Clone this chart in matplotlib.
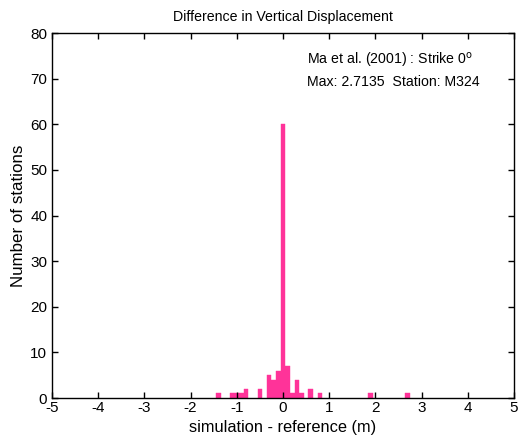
import matplotlib
matplotlib.use("Agg")
import matplotlib.pyplot as plt

plt.rcParams['font.family'] = ['Liberation Sans', 'DejaVu Sans']
plt.rcParams['axes.unicode_minus'] = False

bin_centers = [-1.4, -1.1, -1.0, -0.9, -0.8, -0.5, -0.3, -0.2, -0.1, 0.0,
               0.1, 0.2, 0.3, 0.4, 0.6, 0.8, 1.9, 2.7]
counts = [1, 1, 1, 1, 2, 2, 5, 4, 6, 60, 7, 1, 4, 1, 2, 1, 1, 1]
xticks = [-5, -4, -3, -2, -1, 0, 1, 2, 3, 4, 5]
yticks = [0, 10, 20, 30, 40, 50, 60, 70, 80]

fig = plt.figure(figsize=(5.19, 4.42), dpi=100)
ax = fig.add_axes([52/519, 44/442, 462/519, 365/442])
ax.bar(bin_centers, counts, width=0.1, color='#ff3399', edgecolor='#ff3399', linewidth=0.3)
ax.set_xlim(-5, 5)
ax.set_ylim(0, 80)
ax.set_xticks(xticks)
ax.set_yticks(yticks)
ax.tick_params(direction='in', length=4, width=1, labelsize=11, top=True, right=True)
ax.tick_params(axis='x', pad=2)
for s in ax.spines.values():
    s.set_linewidth(1)
ax.set_title('Difference in Vertical Displacement', fontsize=10.2, pad=9)
ax.set_xlabel('simulation - reference (m)', fontsize=11.8, labelpad=4)
ax.set_ylabel('Number of stations', fontsize=12.2, labelpad=3)
ax.text(0.552, 0.925, 'Ma et al. (2001) : Strike 0$^{\\mathrm{o}}$', transform=ax.transAxes,
        fontsize=10.2, va='center', ha='left')
ax.text(0.552, 0.865, 'Max: 2.7135  Station: M324', transform=ax.transAxes,
        fontsize=10.2, va='center', ha='left')
fig.savefig('out.png', dpi=100)
